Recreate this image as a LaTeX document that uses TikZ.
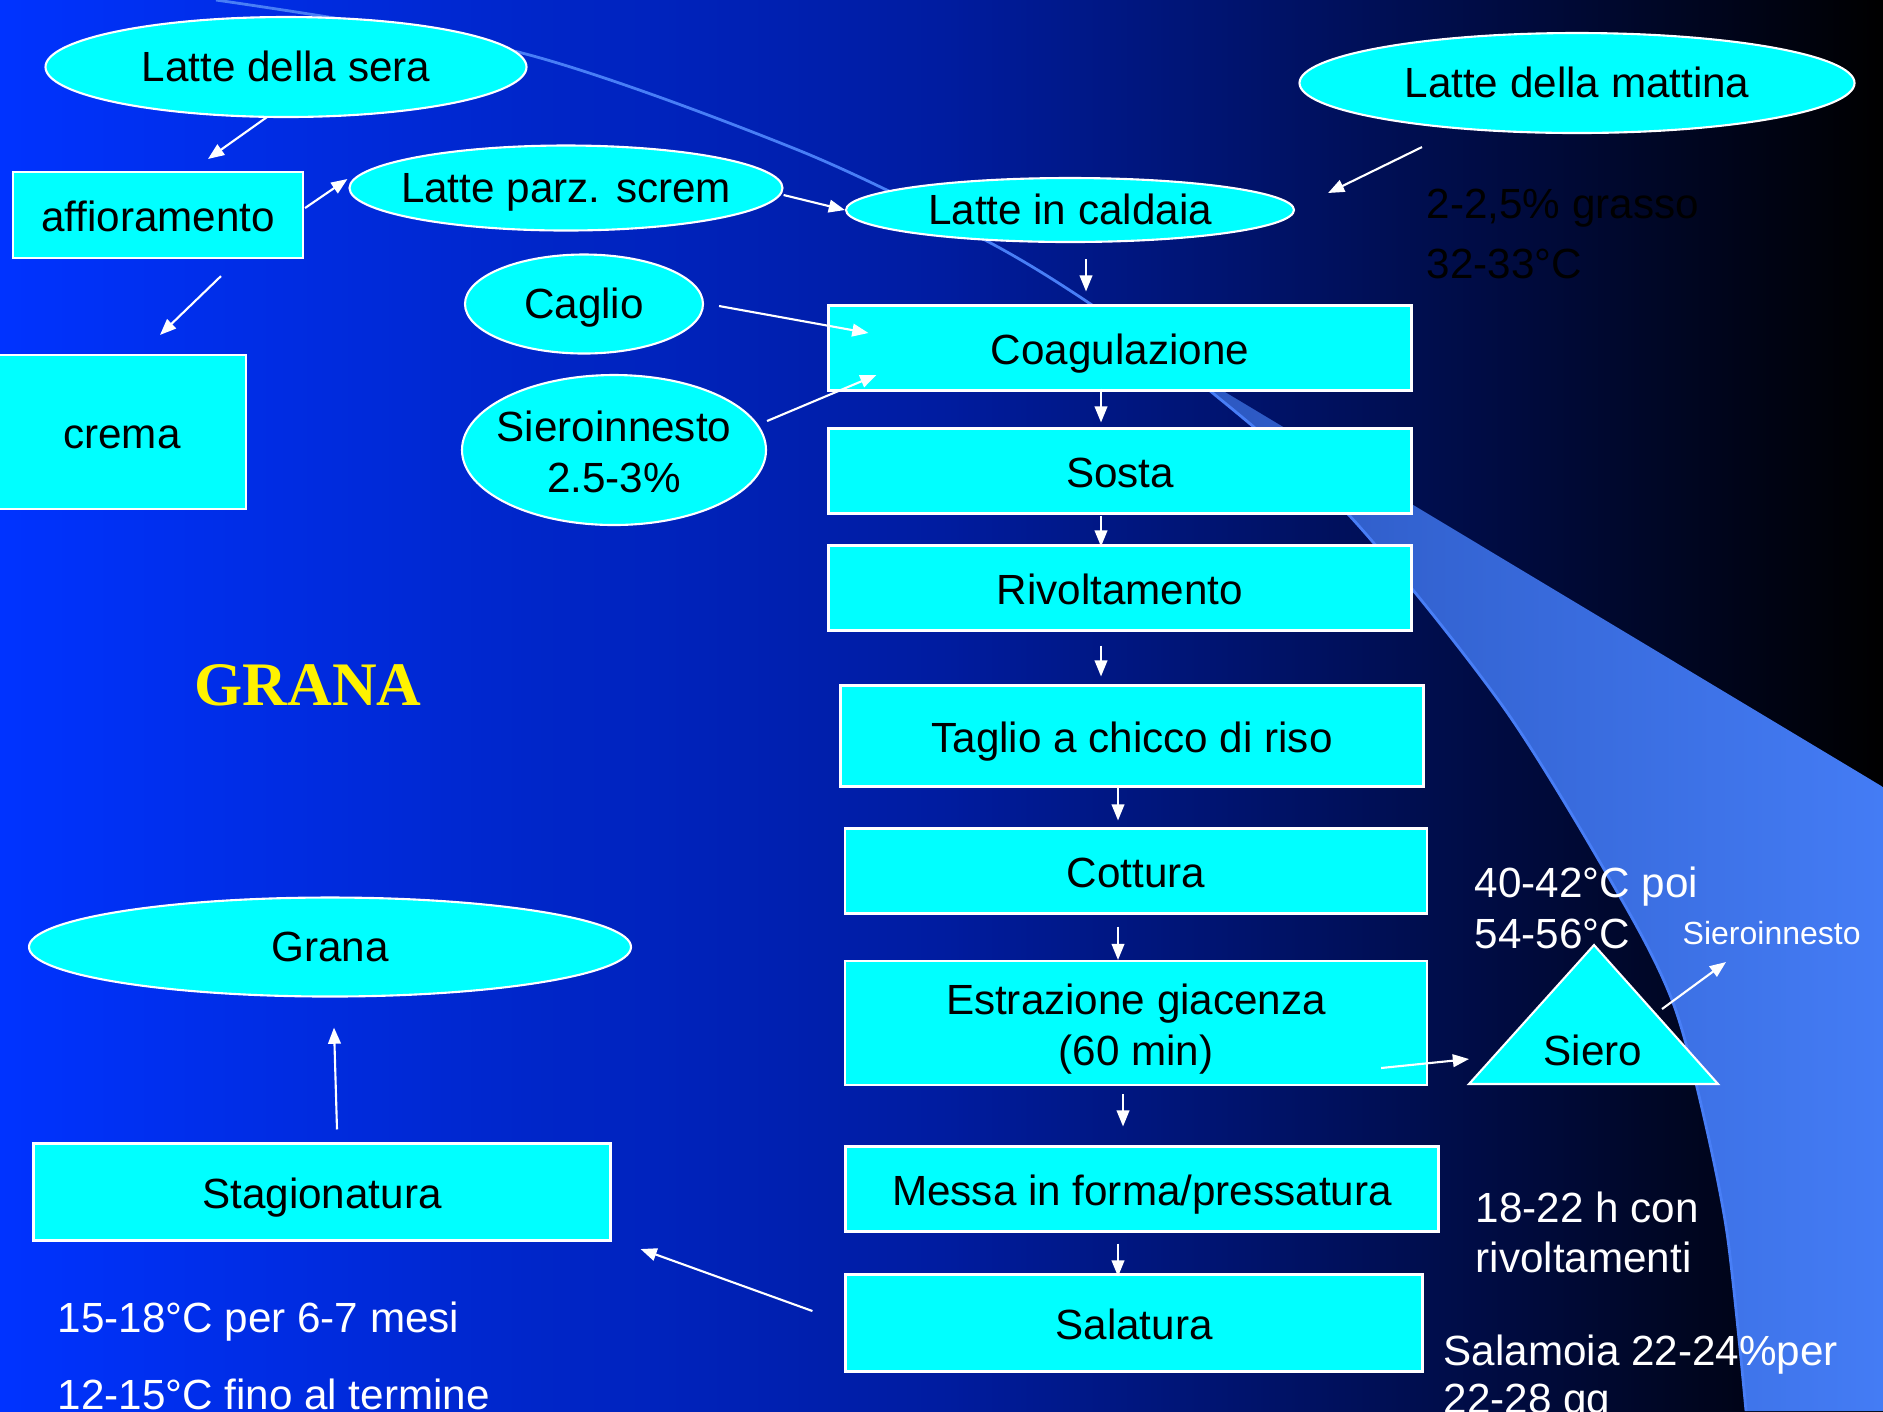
\documentclass[tikz,border=0pt]{standalone}
\usepackage{fontspec}
\setmainfont{Liberation Sans}
\newfontfamily\titlefont{Liberation Serif}
\usetikzlibrary{shapes.geometric,arrows.meta,calc}
\newlength\pix
\setlength{\pix}{0.01cm}
\definecolor{bgleft}{RGB}{0,51,255}
\definecolor{bgmid}{RGB}{0,28,160}
\definecolor{fanlow}{RGB}{40,82,185}
\definecolor{fanhigh}{RGB}{68,124,245}
\definecolor{arcline}{RGB}{72,126,246}
\definecolor{boxfill}{RGB}{0,255,255}
\newcommand{\nowidth}[1]{\makebox[0pt]{#1}}

\begin{document}
\begin{tikzpicture}[x=0.01cm, y=-0.01cm,
  font=\fontsize{12}{14.5}\selectfont,
  wh/.style 2 args={minimum width=#1\pix, minimum height=#2\pix},
  oval/.style={ellipse, draw=white, fill=boxfill, line width=0.6pt, inner sep=0pt,
    text height=0.85em, text depth=0pt},
  stepbox/.style={rectangle, draw=white, fill=boxfill, line width=0.6pt,
    inner sep=0pt, text height=0.95em, text depth=0pt},
  twoline/.style={text height=69\pix, text depth=35\pix},
  note/.style={anchor=base west, inner sep=0pt, text=white},
  arr/.style={white, line width=0.6pt, -{Triangle[length=4.6pt,width=3.6pt]}}]

  \useasboundingbox (0,0) rectangle (1883,1411);
  % background, blue to black
  \shade[left color=bgleft, right color=black, middle color=bgmid]
    (0,0) rectangle (1883,1411);
  % light fan on the right, cut by the big arc
  \begin{scope}
    \clip plot[smooth] coordinates {(216,0) (522,53) (798,150) (985,240)
      (1092,305) (1209,390) (1348,514) (1504,708) (1623,902) (1672,1000)
      (1700,1100) (1727,1233) (1746,1411)} -- (1883,1411) -- (1883,0) -- cycle;
    \clip (1100,317) -- (1883,787) -- (1883,1411) -- (1100,1411) -- cycle;
    \shade[left color=fanlow, right color=fanhigh] (1100,300) rectangle (1883,1411);
  \end{scope}
  \draw[arcline, line width=0.8pt] plot[smooth] coordinates {(216,0) (522,53)
    (798,150) (985,240) (1092,305) (1209,390) (1348,514) (1504,708) (1623,902)
    (1672,1000) (1700,1100) (1727,1233) (1746,1411)};

  % milk
  \node[oval, wh={481}{100}] (sera) at (286,67) {\nowidth{Latte della sera}};
  \node[stepbox, wh={290}{86}] (affio) at (158,215) {affioramento};
  \node[stepbox, wh={248}{154}] (crema) at (122,432) {crema};
  \node[oval, wh={433}{85}] (parz) at (566,188) {\nowidth{Latte parz. screm}};
  \node[oval, wh={448}{64}] (caldaia) at (1070,210) {\nowidth{Latte in caldaia}};
  \node[oval, wh={555}{100}] (mattina) at (1577,83) {\nowidth{Latte della mattina}};
  \node[note, text=black] (grasso) at (1426,218) {2-2,5\% grasso};
  \node[note, text=black] (tcald) at (1426,278) {32-33°C};
  \node[oval, wh={238}{99}] (caglio) at (584,304) {\nowidth{Caglio}};
  \node[oval, wh={304}{150}, twoline] (sieroinn) at (614,450)
    {\nowidth{\begin{tabular}{@{}c@{}}Sieroinnesto\\2.5-3\%\end{tabular}}};

  % main chain
  \node[stepbox, wh={583}{85}] (coag) at (1120,348) {Coagulazione};
  \node[stepbox, wh={583}{85}] (sosta) at (1120,471) {Sosta};
  \node[stepbox, wh={583}{85}] (rivolt) at (1120,588) {Rivoltamento};
  \node[stepbox, wh={583}{101}] (taglio) at (1132,736) {Taglio a chicco di riso};
  \node[stepbox, wh={582}{85}] (cottura) at (1136,871) {Cottura};
  \node[stepbox, wh={582}{124}, twoline] (estraz) at (1136,1023)
    {\nowidth{\begin{tabular}{@{}c@{}}Estrazione giacenza\\(60 min)\end{tabular}}};
  \node[stepbox, wh={593}{85}] (messa) at (1142,1189) {Messa in forma/pressatura};
  \node[stepbox, wh={577}{97}] (salatura) at (1134,1323) {Salatura};

  % whey
  \coordinate (sieroL) at (1469,1084);
  \coordinate (sieroT) at (1594,945);
  \coordinate (sieroR) at (1718,1084);
  \draw[fill=boxfill, draw=white, line width=0.6pt] (sieroL) -- (sieroT) -- (sieroR) -- cycle;
  \node[anchor=base, inner sep=0pt] (siero) at (1593,1065) {Siero};
  \node[note, font=\fontsize{9.1}{11}\selectfont] (sieroinn2) at (1682,944) {Sieroinnesto};

  % notes
  \node[note] (cott1) at (1474,897) {40-42°C poi};
  \node[note] (cott2) at (1474,948) {54-56°C};
  \node[note] (press1) at (1475,1222) {18-22 h con};
  \node[note] (press2) at (1475,1272) {rivoltamenti};
  \node[note] (sal1) at (1443,1365) {Salamoia 22-24\%per};
  \node[note] (sal2) at (1443,1413) {22-28 gg};

  % ripening
  \node[stepbox, wh={577}{97}] (stag) at (322,1192) {Stagionatura};
  \node[oval, wh={602}{99}] (grana) at (330,947) {\nowidth{Grana}};
  \node[note] (stag1) at (57,1332) {15-18°C per 6-7 mesi};
  \node[note] (stag2) at (57,1409) {12-15°C fino al termine};
  \node[anchor=base, inner sep=0pt, text=yellow,
    font=\titlefont\bfseries\fontsize{17.6}{20}\selectfont] (titolo) at (308,705) {GRANA};

  % arrows
  \draw[arr] ($(sera.south)+(-19,-1)$) -- ($(affio.north)+(50,-12)$);
  \draw[arr] ($(affio.south)+(63,17)$) -- ($(crema.north)+(38,-19)$);
  \draw[arr] ($(affio.east)+(1,-7)$) -- ($(parz.west)+(-1,-9)$);
  \draw[arr] ($(parz.east)+(0,7)$) -- (caldaia.west);
  \draw[arr] ($(mattina.south)+(-155,13)$) -- ($(caldaia.east)+(33,-17)$);
  \draw[arr] ($(caldaia.south)+(16,16)$) -- ($(coag.north)+(-34,-13)$);
  \draw[arr] ($(caglio.east)+(15,2)$) -- ($(coag.west)+(41,-15)$);
  \draw[arr] ($(sieroinn.east)+(0,-29)$) -- ($(coag.west)+(49,27)$);
  \draw[arr] ($(coag.south)+(-19,-3)$) -- ($(sosta.north)+(-19,-5)$);
  \draw[arr] ($(sosta.south)+(-19,1)$) -- ($(rivolt.north)+(-19,2)$);
  \draw[arr] ($(rivolt.south)+(-19,14)$) -- ($(taglio.north)+(-31,-8)$);
  \draw[arr] ($(taglio.south)+(-14,0)$) -- ($(cottura.north)+(-18,-7)$);
  \draw[arr] ($(cottura.south)+(-18,12)$) -- ($(estraz.north)+(-18,0)$);
  \draw[arr] ($(estraz.south)+(-13,8)$) -- ($(messa.north)+(-19,-19)$);
  \draw[arr] ($(messa.south)+(-24,11)$) -- ($(salatura.north)+(-16,3)$);
  \draw[arr] ($(estraz.east)+(-47,45)$) -- ($(sieroL)+(0,-25)$);
  \draw[arr] ($(sieroT)+(68,64)$) -- ($(sieroinn2.base west)+(44,18)$);
  \draw[arr] ($(salatura.west)+(-32,-12)$) -- ($(stag.east)+(29,57)$);
  \draw[arr] ($(stag.north)+(15,-13)$) -- ($(grana.south)+(4,30)$);
\end{tikzpicture}
\end{document}
